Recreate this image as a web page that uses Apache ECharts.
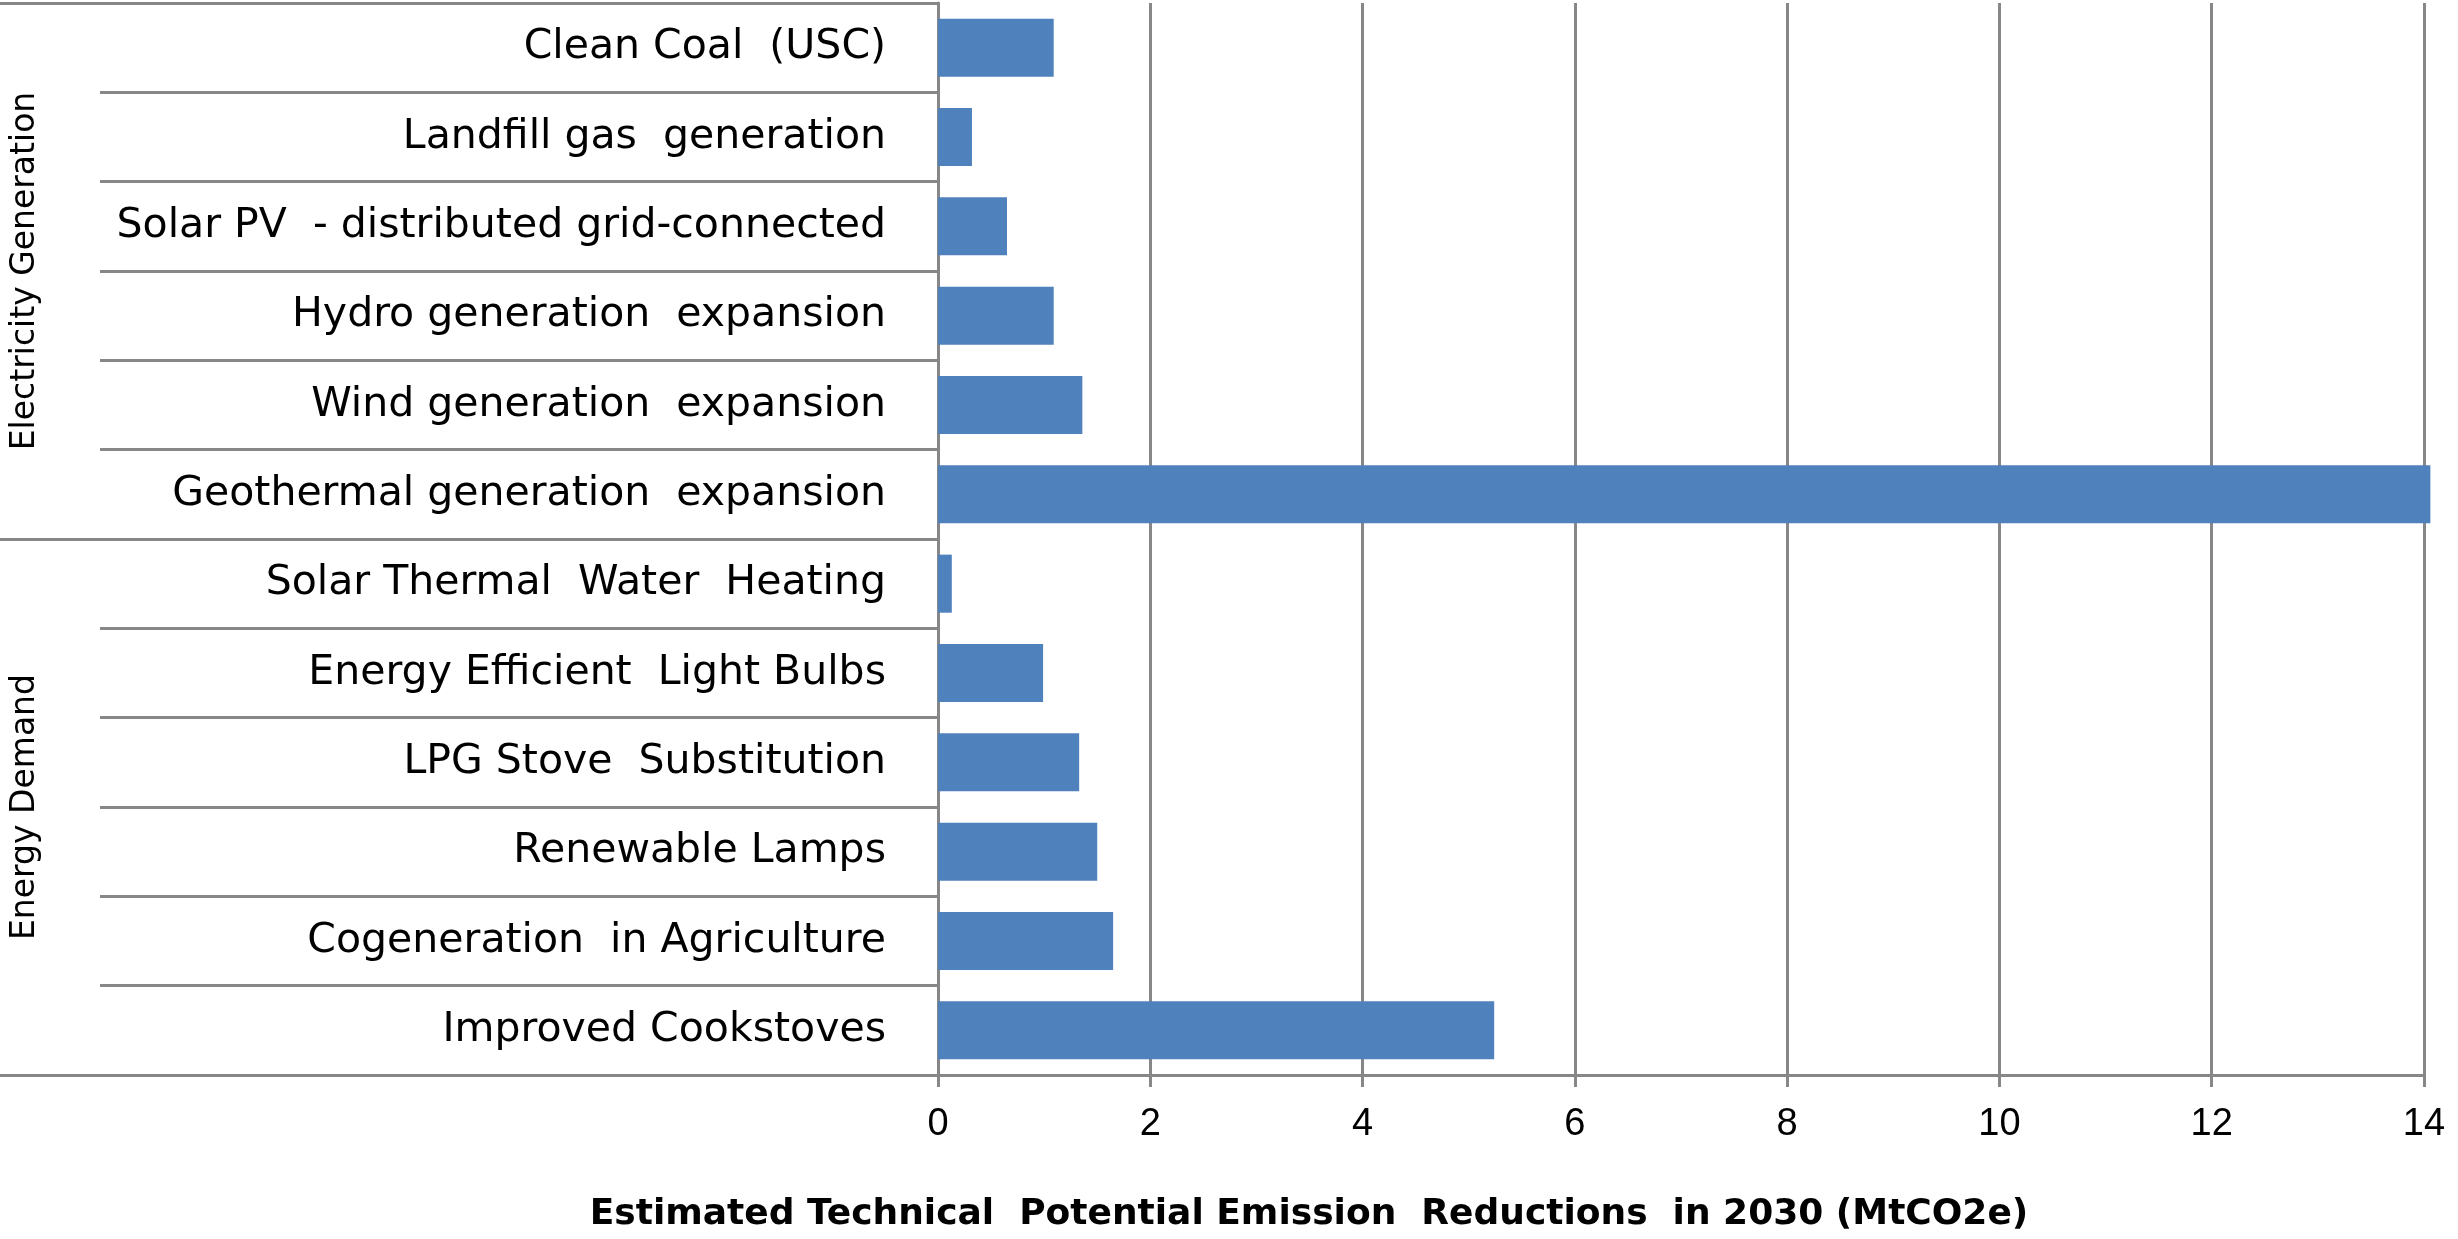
<!DOCTYPE html>
<html>
<head>
<meta charset="utf-8">
<style>
  html, body { margin: 0; padding: 0; background: #fff; }
  #chart { width: 2458px; height: 1239px; }
</style>
<script src="https://cdn.jsdelivr.net/npm/echarts@6/dist/echarts.min.js"></script>
</head>
<body>
<div id="chart"></div>
<script>
// rows, top to bottom
const categories = [
  'Clean Coal  (USC)',
  'Landfill gas  generation',
  'Solar PV  - distributed grid-connected',
  'Hydro generation  expansion',
  'Wind generation  expansion',
  'Geothermal generation  expansion',
  'Solar Thermal  Water  Heating',
  'Energy Efficient  Light Bulbs',
  'LPG Stove  Substitution',
  'Renewable Lamps',
  'Cogeneration  in Agriculture',
  'Improved Cookstoves'
]
const reductions = [1.09, 0.32, 0.65, 1.09, 1.36, 14.06, 0.13, 0.99, 1.33, 1.5, 1.65, 5.24]
const groups = ['Electricity Generation', 'Energy Demand']
const xTitle = 'Estimated Technical  Potential Emission  Reductions  in 2030 (MtCO2e)'

const gray = '#878787'
const chart = echarts.init(document.getElementById('chart'))

const options = {
  animation: false,
  grid: { left: 938, right: 34, top: 3, bottom: 164 },
  xAxis: {
    type: 'value',
    min: 0,
    max: 14,
    interval: 2,
    axisLine: { show: true, lineStyle: { color: gray, width: 3 } },
    axisTick: { show: true, length: 12, lineStyle: { color: gray, width: 3 } },
    splitLine: { show: true, lineStyle: { color: gray, width: 3 } },
    axisLabel: {
      margin: 31,
      color: '#000',
      fontFamily: 'Liberation Sans',
      fontSize: 38
    }
  },
  yAxis: [
    {
      type: 'category',
      position: 'left',
      inverse: true,
      data: categories,
      axisLine: { show: true, lineStyle: { color: gray, width: 3 } },
      axisTick: { show: true, length: 838, lineStyle: { color: gray, width: 3 } },
      axisLabel: {
        margin: 52,
        color: '#000',
        fontFamily: 'DejaVu Sans',
        fontSize: 41
      }
    },
    {
      type: 'category',
      position: 'left',
      inverse: true,
      data: groups,
      axisLine: { show: false },
      axisTick: { show: true, length: 938, lineStyle: { color: gray, width: 3 } },
      axisLabel: {
        rotate: 90,
        margin: 896,
        color: '#000',
        fontFamily: 'DejaVu Sans',
        fontSize: 33
      }
    }
  ],
  graphic: [
    {
      type: 'text',
      x: 1309,
      y: 1215,
      style: {
        text: xTitle,
        fill: '#000',
        font: 'bold 36px "DejaVu Sans"',
        textAlign: 'center',
        textVerticalAlign: 'middle'
      }
    }
  ],
  series: [
    {
      type: 'bar',
      yAxisIndex: 0,
      data: reductions,
      clip: false,
      barCategoryGap: '35%',
      itemStyle: { color: '#4f81bd' }
    }
  ]
}
chart.setOption(options)
</script>
</body>
</html>
